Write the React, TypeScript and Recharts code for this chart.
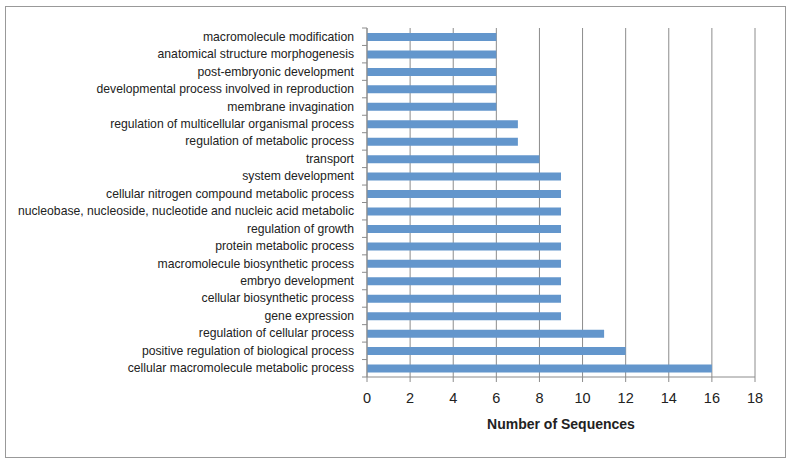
import { BarChart, Bar, XAxis, YAxis, CartesianGrid } from 'recharts';

const categories = [
  'macromolecule modification',
  'anatomical structure morphogenesis',
  'post-embryonic development',
  'developmental process involved in reproduction',
  'membrane invagination',
  'regulation of multicellular organismal process',
  'regulation of metabolic process',
  'transport',
  'system development',
  'cellular nitrogen compound metabolic process',
  'nucleobase, nucleoside, nucleotide and nucleic acid metabolic',
  'regulation of growth',
  'protein metabolic process',
  'macromolecule biosynthetic process',
  'embryo development',
  'cellular biosynthetic process',
  'gene expression',
  'regulation of cellular process',
  'positive regulation of biological process',
  'cellular macromolecule metabolic process',
];

const sequenceCounts = [6, 6, 6, 6, 6, 7, 7, 8, 9, 9, 9, 9, 9, 9, 9, 9, 9, 11, 12, 16];

const xTicks = [0, 2, 4, 6, 8, 10, 12, 14, 16, 18];

const data = categories.map((name, i) => ({ name, count: sequenceCounts[i] }));

const W = 790;
const H = 463;
const MARGIN = { top: 28, right: 35, bottom: 34, left: 0 };
const X_AXIS_H = 52;
const Y_AXIS_W = 367;
const PLOT_H = H - MARGIN.top - MARGIN.bottom - X_AXIS_H;
const BAND = PLOT_H / categories.length;
const FONT = '"Liberation Sans", Arial, sans-serif';
const AXIS_GRAY = '#8c8c8c';

// label at band center, tick mark on the band's top edge (Excel style)
const CategoryTick = (props: any) => {
  const { x, y, payload, index } = props;
  const axisX = x + 13;
  const top = y - BAND / 2;
  return (
    <g>
      <line x1={axisX - 5} x2={axisX} y1={top} y2={top} stroke={AXIS_GRAY} />
      {index === categories.length - 1 && (
        <line x1={axisX - 5} x2={axisX} y1={top + BAND} y2={top + BAND} stroke={AXIS_GRAY} />
      )}
      <text x={x} y={y} dy={4} textAnchor="end" fontSize={12.2} fill="#222" fontFamily={FONT}>
        {payload.value}
      </text>
    </g>
  );
};

export default function App() {
  return (
    <div style={{ position: 'absolute', left: 0, top: 0, width: W, height: H, background: '#fff' }}>
      <div
        style={{
          position: 'absolute',
          left: 5,
          top: 6,
          width: 779,
          height: 450,
          border: '1px solid #999',
        }}
      />
      <BarChart
        width={W}
        height={H}
        data={data}
        layout="vertical"
        margin={MARGIN}
        barSize={8}
        style={{ position: 'absolute', left: 0, top: 0 }}
      >
        <CartesianGrid horizontal={false} stroke={AXIS_GRAY} />
        <XAxis
          type="number"
          domain={[0, 18]}
          ticks={xTicks}
          height={X_AXIS_H}
          tickSize={5}
          tickMargin={11}
          stroke={AXIS_GRAY}
          tick={{ fontSize: 14.5, fill: '#222', fontFamily: FONT }}
          label={{
            value: 'Number of Sequences',
            position: 'insideBottom',
            offset: 0,
            style: { fontSize: 14, fontWeight: 'bold', fill: '#222', fontFamily: FONT },
          }}
        />
        <YAxis
          type="category"
          dataKey="name"
          width={Y_AXIS_W}
          interval={0}
          tickLine={false}
          tickSize={5}
          tickMargin={8}
          stroke={AXIS_GRAY}
          tick={<CategoryTick />}
        />
        <Bar dataKey="count" fill="#6396cc" isAnimationActive={false} />
      </BarChart>
    </div>
  );
}
